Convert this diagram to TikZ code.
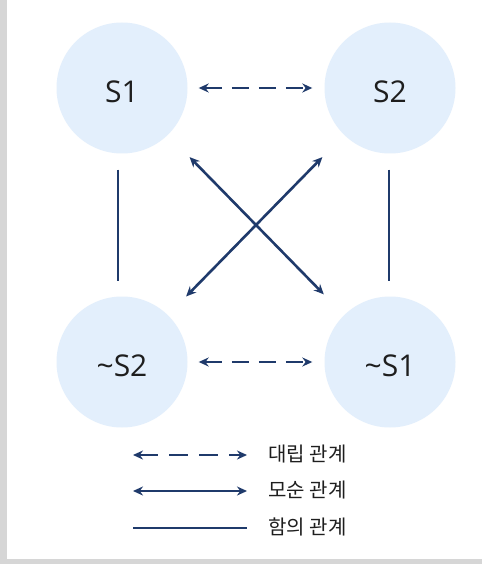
\documentclass[tikz,border=0pt]{standalone}
\usepackage{fontspec}
\setmainfont{Noto Sans CJK KR}
\newfontfamily\termfont{Open Sans}
\usetikzlibrary{arrows.meta}
\definecolor{circfill}{HTML}{E3EFFC}
\definecolor{navy}{HTML}{1F3A6B}
\definecolor{framegray}{HTML}{D6D6D6}
\definecolor{labeltext}{HTML}{1E1E1E}
\begin{document}
\begin{tikzpicture}[x=1pt,y=-1pt,
  term/.style={circle,fill=circfill,minimum size=131pt,inner sep=0pt,
    font=\termfont\fontsize{30}{34}\selectfont,text=labeltext},
  termtext/.style={anchor=center,font=\termfont\fontsize{30}{34}\selectfont,text=labeltext},
  link/.style={draw=navy,line width=2.6pt},
  opposed/.style={link,dashed,dash pattern=on 17pt off 10pt,
    {Stealth[length=10pt,width=9pt]}-{Stealth[length=10pt,width=9pt]}},
  contra/.style={link,{Stealth[length=10pt,width=9pt]}-{Stealth[length=10pt,width=9pt]}},
  implies/.style={link},
  legendtext/.style={anchor=west,font=\fontsize{20}{24}\selectfont,text=labeltext}]
  % page with a soft grey edge on the left and bottom
  \fill[framegray] (0,0) rectangle (486,564);
  \fill[white] (7,0) rectangle (486,559);
  \fill[white] (482,559) rectangle (486,564);
  \useasboundingbox (0,0) rectangle (486,564);

  % the four terms of the square
  \node[term] (S1)  at (122,88)  {};
  \node[term] (S2)  at (390,88)  {};
  \node[term] (nS2) at (122,362) {};
  \node[term] (nS1) at (390,362) {};
  \node[termtext] (S1t)  at ([yshift=-4pt]S1.center)  {S1};
  \node[termtext] (S2t)  at ([yshift=-4pt]S2.center)  {S2};
  \node[termtext] (nS2t) at ([yshift=-4pt]nS2.center) {\textasciitilde S2};
  \node[termtext] (nS1t) at ([yshift=-4pt]nS1.center) {\textasciitilde S1};

  % contrary relations (dashed)
  \draw[opposed,shorten <=11pt,shorten >=12pt] (S1) -- (S2);
  \draw[opposed,shorten <=11pt,shorten >=12pt] (nS2) -- (nS1);

  % contradictory relations (diagonals)
  \draw[contra,shorten <=31pt,shorten >=29pt] (S1) -- (nS1);
  \draw[contra,shorten <=31pt,shorten >=26pt] (S2) -- (nS2);

  % implication relations (verticals)
  \draw[implies] ([xshift=-4pt,yshift=-16pt]S1.south) -- ([xshift=-4pt,yshift=15pt]nS2.north);
  \draw[implies] ([xshift=-1pt,yshift=-16pt]S2.south) -- ([xshift=-1pt,yshift=15pt]nS1.north);

  % legend
  \coordinate (l1a) at (133,455); \coordinate (l1b) at (247,455);
  \coordinate (l2a) at (133,491); \coordinate (l2b) at (247,491);
  \coordinate (l3a) at (133,528); \coordinate (l3b) at (247,528);
  \draw[opposed,dash pattern=on 19pt off 11pt] (l1a) -- (l1b);
  \draw[contra] (l2a) -- (l2b);
  \draw[implies] (l3a) -- (l3b);
  \node[legendtext] (t1) at (265,454) {대립 관계};
  \node[legendtext] (t2) at (265,490) {모순 관계};
  \node[legendtext] (t3) at (265,527) {함의 관계};
\end{tikzpicture}
\end{document}
